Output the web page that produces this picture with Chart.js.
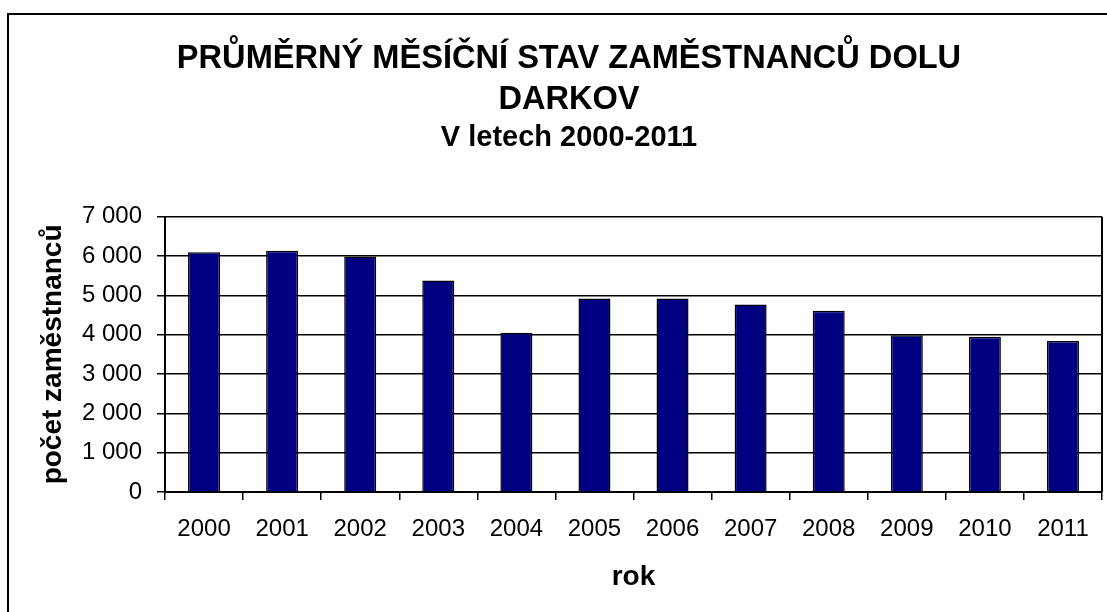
<!DOCTYPE html>
<html>
<head>
<meta charset="utf-8">
<script src="https://cdn.jsdelivr.net/npm/chart.js@4"></script>
<style>
  html, body { margin: 0; padding: 0; background: #fff; }
  #wrap { width: 1107px; height: 612px; }
</style>
</head>
<body>
<div id="wrap"><canvas id="chart" width="1107" height="612"></canvas></div>
<script>
const YEARS = ["2000", "2001", "2002", "2003", "2004", "2005", "2006", "2007", "2008", "2009", "2010", "2011"];
const EMPLOYEES = [6100, 6140, 5990, 5380, 4050, 4920, 4920, 4770, 4610, 3990, 3950, 3840];
const Y_MAX = 7000;
const Y_STEP = 1000;

const TITLE_LINES = ["PRŮMĚRNÝ MĚSÍČNÍ STAV ZAMĚSTNANCŮ DOLU", "DARKOV"];
const SUBTITLE = "V letech 2000-2011";
const X_TITLE = "rok";
const Y_TITLE = "počet zaměstnanců";

const FONT = "'Liberation Sans', Arial, sans-serif";
const BAR_COLOR = "#000080";

function thousands(v) {
  return String(v).replace(/\B(?=(\d{3})+(?!\d))/g, " ");
}

// white page + the chart frame (left and top edge only visible) + right edge of the plot area
const framePlugin = {
  id: "frame",
  beforeDraw(chart) {
    const { ctx, width, height } = chart;
    ctx.save();
    ctx.fillStyle = "#fff";
    ctx.fillRect(0, 0, width, height);
    ctx.strokeStyle = "#000";
    ctx.lineWidth = 2;
    ctx.beginPath();
    ctx.moveTo(8, height + 5);
    ctx.lineTo(8, 14);
    ctx.lineTo(width + 5, 14);
    ctx.stroke();
    ctx.restore();
  },
  afterDatasetsDraw(chart) {
    const { ctx, chartArea } = chart;
    ctx.save();
    ctx.strokeStyle = "#000";
    ctx.lineWidth = 2;
    ctx.beginPath();
    ctx.moveTo(chartArea.right, chartArea.top);
    ctx.lineTo(chartArea.right, chartArea.bottom);
    ctx.stroke();
    ctx.restore();
  },
};

new Chart(document.getElementById("chart"), {
  type: "bar",
  data: {
    labels: YEARS,
    datasets: [
      {
        data: EMPLOYEES,
        backgroundColor: BAR_COLOR,
        borderColor: "#000",
        borderWidth: 1.5,
        barPercentage: 0.41,
        categoryPercentage: 1,
      },
    ],
  },
  options: {
    responsive: false,
    animation: false,
    layout: { padding: { left: 36, right: 5, top: 0, bottom: 0 } },
    plugins: {
      legend: { display: false },
      tooltip: { enabled: false },
      title: {
        display: true,
        text: TITLE_LINES,
        color: "#000",
        font: { family: FONT, size: 32.6, weight: "bold", lineHeight: 1.258 },
        padding: { top: 38.5, bottom: 0 },
      },
      subtitle: {
        display: true,
        text: SUBTITLE,
        color: "#000",
        font: { family: FONT, size: 29, weight: "bold", lineHeight: 1.2 },
        padding: { top: 0, bottom: 61.5 },
      },
    },
    scales: {
      x: {
        afterFit(scale) { scale.height = 120; },
        grid: {
          display: true,
          drawOnChartArea: false,
          drawTicks: true,
          tickLength: 8,
          color: "#000",
          lineWidth: 1.5,
        },
        border: { display: true, color: "#000", width: 2 },
        ticks: {
          color: "#000",
          font: { family: FONT, size: 24 },
          padding: 15,
          maxRotation: 0,
        },
        title: {
          display: true,
          text: X_TITLE,
          color: "#000",
          font: { family: FONT, size: 28, weight: "bold", lineHeight: 1.2 },
          padding: { top: 0, bottom: 18 },
        },
      },
      y: {
        min: 0,
        max: Y_MAX,
        afterFit(scale) { scale.width = 129; },
        grid: {
          color: "#000",
          lineWidth: 1.5,
          tickLength: 8,
        },
        border: { display: true, color: "#000", width: 2 },
        ticks: {
          stepSize: Y_STEP,
          color: "#000",
          font: { family: FONT, size: 24 },
          padding: 15,
          callback: (v) => thousands(v),
        },
        title: {
          display: true,
          text: Y_TITLE,
          color: "#000",
          font: { family: FONT, size: 28, weight: "bold", lineHeight: 1.2 },
          padding: { top: 0, bottom: 0 },
        },
      },
    },
  },
  plugins: [framePlugin],
});
</script>
</body>
</html>
